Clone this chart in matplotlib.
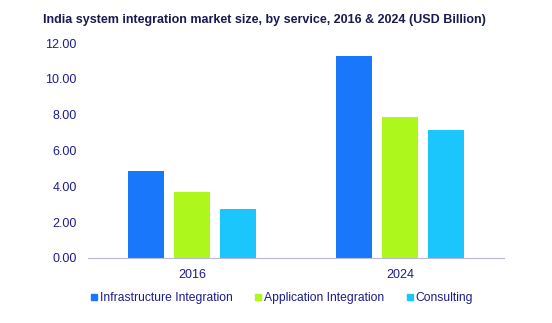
import numpy as np
import matplotlib.pyplot as plt
from matplotlib.lines import Line2D

plt.rcParams['font.family'] = ['Liberation Sans', 'DejaVu Sans']

years = ['2016', '2024']
services = ['Infrastructure Integration', 'Application Integration', 'Consulting']
infrastructure = [4.87, 11.30]
application = [3.69, 7.88]
consulting = [2.74, 7.17]
colors = ['#1877fb', '#adf71c', '#1ac6fb']
yticks = [0, 2, 4, 6, 8, 10, 12]

TEXT = '#1c1c8f'

fig = plt.figure(figsize=(5.52, 3.23), dpi=100)
ax = fig.add_axes([88/552, 1 - 258/323, 416/552, 215/323])

x = np.arange(len(years))
width = 0.173
step = 0.221
for i, vals in enumerate([infrastructure, application, consulting]):
    ax.bar(x + (i - 1) * step, vals, width, color=colors[i], label=services[i])

ax.set_xlim(-0.5, 1.5)
ax.set_ylim(0, 12)
ax.set_yticks(yticks)
ax.set_yticklabels(['%.2f' % v for v in yticks])
ax.set_xticks(x)
ax.set_xticklabels(years)
ax.tick_params(length=0, labelsize=9, colors=TEXT)
ax.tick_params(axis='y', pad=8)
ax.tick_params(axis='x', pad=8)
for s in ['top', 'right', 'left']:
    ax.spines[s].set_visible(False)
ax.spines['bottom'].set_color('#b8b8dc')

fig.text(264/552, 1 - 20.5/323, 'India system integration market size, by service, 2016 & 2024 (USD Billion)',
         ha='center', va='center', fontsize=9.0, fontweight='bold', color='#1a1a50')

handles = [Line2D([], [], marker='s', linestyle='', color=c, markersize=4.5) for c in colors]
fig.legend(handles, services, loc='center', bbox_to_anchor=(281/552, 1 - 298/323), ncol=3,
           frameon=False, fontsize=8.7, labelcolor=TEXT, handletextpad=0.05,
           columnspacing=1.75, handlelength=0.8)

fig.savefig('out.png', dpi=100)
